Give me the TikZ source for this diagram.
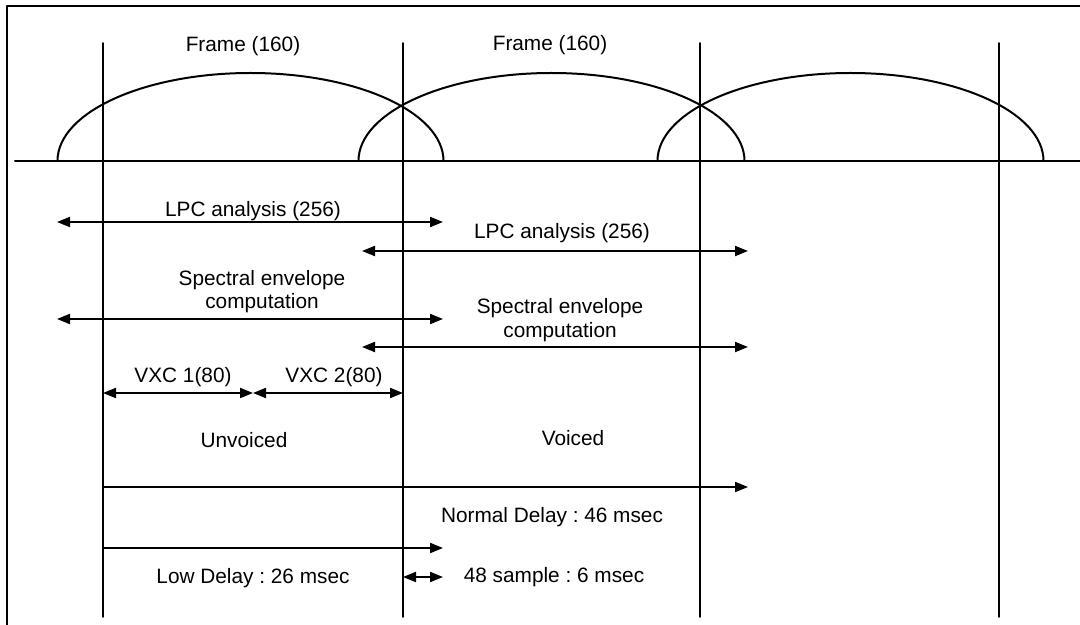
\documentclass[tikz,border=0pt]{standalone}
\usepackage{fontspec}
\setmainfont{Liberation Sans}
\frenchspacing
\usetikzlibrary{arrows.meta}

\begin{document}
\begin{tikzpicture}[line cap=round,line join=round,>={Triangle[length=6.5pt,width=5pt]},x=0.5pt,y=-0.5pt,
		every node/.style={font=\fontsize{10.4}{12}\selectfont,inner sep=0pt,align=center}]
				\clip(0,0) rectangle (1080,625);
				% outer box, only its top and left edges fall inside
				\draw [line width=0.7pt] (7,625)-- (7,6)-- (1080,6);
				% time axis
				\coordinate (axL) at (15,161);
				\coordinate (axR) at (1080,161);
				\draw [line width=1pt] (axL)-- (axR);
				% frame boundaries
				\coordinate (T1) at (103,43);
				\coordinate (B1) at (103,617);
				\coordinate (T2) at (403,43);
				\coordinate (B2) at (403,617);
				\coordinate (T3) at (700,43);
				\coordinate (B3) at (700,617);
				\coordinate (T4) at (999,43);
				\coordinate (B4) at (999,617);
				\draw [line width=0.9pt] (T1)-- (B1);
				\draw [line width=0.9pt] (T2)-- (B2);
				\draw [line width=0.9pt] (T3)-- (B3);
				\draw [line width=0.9pt] (T4)-- (B4);
				% analysis windows
				\draw [line width=1pt] (57.5,161) arc [start angle=180,end angle=0,x radius=96.5pt,y radius=44pt];
				\draw [line width=1pt] (358.5,161) arc [start angle=180,end angle=0,x radius=96.5pt,y radius=44pt];
				\draw [line width=1pt] (657.5,161) arc [start angle=180,end angle=0,x radius=96.5pt,y radius=44pt];
				\draw (243,52) node[anchor=base] (frameA) {Frame (160)};
				\draw (550,51) node[anchor=base] (frameB) {Frame (160)};
				% LPC analysis
				\coordinate (lpcA1) at (57,222);
				\coordinate (lpcA2) at (443,222);
				\coordinate (lpcB1) at (362,251);
				\coordinate (lpcB2) at (748,251);
				\draw [line width=1pt,<->] (lpcA1)-- (lpcA2);
				\draw [line width=1pt,<->] (lpcB1)-- (lpcB2);
				\draw (253,217) node[anchor=base] (lpcA) {LPC analysis (256)};
				\draw (562,239) node[anchor=base] (lpcB) {LPC analysis (256)};
				% spectral envelope (base = last line)
				\coordinate (envA1) at (57,319);
				\coordinate (envA2) at (443,319);
				\coordinate (envB1) at (362,347);
				\coordinate (envB2) at (748,347);
				\draw [line width=1pt,<->] (envA1)-- (envA2);
				\draw [line width=1pt,<->] (envB1)-- (envB2);
				\draw (262,309) node[anchor=base] (envA) {Spectral envelope\\computation};
				\draw (560,337) node[anchor=base] (envB) {Spectral envelope\\computation};
				% VXC sub-frames
				\coordinate (vxc0) at (103,393);
				\coordinate (vxc1) at (253,393);
				\coordinate (vxc2) at (403,393);
				\draw [line width=1pt,<->] (vxc0)-- (vxc1);
				\draw [line width=1pt,<->] (vxc1)-- (vxc2);
				\draw (183,382) node[anchor=base] (vxcA) {VXC 1(80)};
				\draw (334,382) node[anchor=base] (vxcB) {VXC 2(80)};
				\draw (244,447) node[anchor=base] (unv) {Unvoiced};
				\draw (573,445) node[anchor=base] (voi) {Voiced};
				% delays
				\coordinate (nrm1) at (103,487);
				\coordinate (nrm2) at (748,487);
				\coordinate (low1) at (103,548);
				\coordinate (low2) at (443,548);
				\coordinate (smp1) at (403,577);
				\coordinate (smp2) at (443,577);
				\draw [line width=1pt,->] (nrm1)-- (nrm2);
				\draw [line width=1pt,->] (low1)-- (low2);
				\draw [line width=1pt,<->] (smp1)-- (smp2);
				\draw (552,522) node[anchor=base] (nrm) {Normal Delay : 46 msec};
				\draw (253,583) node[anchor=base] (low) {Low Delay : 26 msec};
				\draw (554,582) node[anchor=base] (smp) {48 sample : 6 msec};
			\end{tikzpicture}
\end{document}
